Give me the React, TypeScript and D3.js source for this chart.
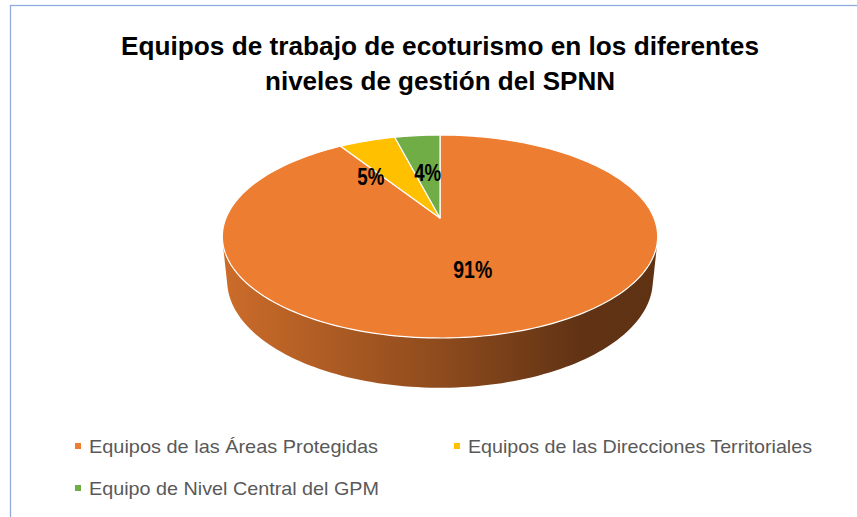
import React from "react";
import * as d3 from "d3";

const titleLines = ["Equipos de trabajo de ecoturismo en los diferentes", "niveles de gestión del SPNN"];
const categories = [
  "Equipos de las Áreas Protegidas",
  "Equipos de las Direcciones Territoriales",
  "Equipo de Nivel Central del GPM",
];
const values = [91, 5, 4];
const labels = ["91%", "5%", "4%"];
const colors = ["#ED7D31", "#FFC000", "#70AD47"];

// layout
const W = 857, H = 517;
const CX = 440, CY = 218, S = 214;
const PHI = Math.asin(0.4584);
const D = 4.87;
const T = 0.2335;
const LABEL_R = 0.5;
const labelNudge = [0, -30, 0];
const NARROW = "'Liberation Sans Narrow','Arial Narrow','Liberation Sans',Arial,sans-serif";

function proj(x: number, z: number, y = 0): [number, number] {
  const c = Math.cos(PHI), s = Math.sin(PHI);
  const Yc = y * c - z * s;
  const Zc = z * c + y * s;
  const k = D / (D - Zc);
  return [CX + S * x * k, CY - S * Yc * k];
}
const onDisk = (theta: number, r = 1, y = 0) => proj(r * Math.sin(theta), -r * Math.cos(theta), y);

function arcPoints(a0: number, a1: number, y = 0) {
  const n = Math.max(2, Math.ceil(((a1 - a0) / (2 * Math.PI)) * 240));
  return d3.range(n + 1).map((i) => onDisk(a0 + ((a1 - a0) * i) / n, 1, y));
}

export default function App() {
  const pie = d3.pie<number>().sort(null).startAngle(0).endAngle(2 * Math.PI);
  const arcs = pie(values);
  const line = d3.line();

  const k = 1 / (D * Math.cos(PHI));
  const sil0 = Math.acos(-k);
  const sil1 = 2 * Math.PI - sil0;
  const leftX = onDisk(sil1, 1, -T)[0] - 6;
  const rightX = onDisk(sil0, 1, -T)[0] + 6;

  const sides = arcs
    .map((a, i) => {
      const s0 = Math.max(a.startAngle, sil0);
      const s1 = Math.min(a.endAngle, sil1);
      if (s1 <= s0) return null;
      const pts = [...arcPoints(s0, s1, 0), ...arcPoints(s0, s1, -T).reverse()];
      return { i, d: line(pts as [number, number][]) + "Z" };
    })
    .filter(Boolean) as { i: number; d: string }[];

  const shade = (col: string, f: number) => {
    const c = d3.rgb(col);
    return d3.rgb(c.r * f, c.g * f, c.b * f).formatHex();
  };
  const stops = [
    [0, 0.86],
    [0.5, 0.6],
    [0.82, 0.41],
    [1, 0.4],
  ];

  const tops = arcs.map((a) => {
    const pts = [proj(0, 0), ...arcPoints(a.startAngle, a.endAngle, 0)];
    return line(pts as [number, number][]) + "Z";
  });

  const legendCols = [75, 454];
  const legendRows = [443, 485];
  const legendLens = [289, 344, 290];
  const labelLens = [39, 27, 27];

  return (
    <svg width={W} height={H} style={{ position: "absolute", left: 0, top: 0 }}>
      <defs>
        {colors.map((c, i) => (
          <linearGradient key={i} id={`side${i}`} gradientUnits="userSpaceOnUse" x1={leftX} x2={rightX} y1={0} y2={0}>
            {stops.map(([o, f], j) => (
              <stop key={j} offset={o} stopColor={shade(c, f)} />
            ))}
          </linearGradient>
        ))}
      </defs>
      <rect x={0} y={0} width={W} height={H} fill="#fff" />
      <rect x={10.5} y={5.5} width={W + 20} height={H + 20} fill="none" stroke="#8FAADC" strokeWidth={1.3} />

      {titleLines.map((t, i) => (
        <text
          key={i}
          x={CX}
          y={55 + i * 35}
          textAnchor="middle"
          fontFamily={NARROW}
          fontWeight="bold"
          fontSize={26}
          fill="#000"
          textLength={i === 0 ? 638 : 350}
          lengthAdjust="spacingAndGlyphs"
        >
          {t}
        </text>
      ))}

      {sides.map((s) => (
        <path key={s.i} d={s.d} fill={`url(#side${s.i})`} />
      ))}
      {tops.map((d, i) => (
        <path key={i} d={d} fill={colors[i]} stroke="#fff" strokeWidth={1.2} strokeLinejoin="round" />
      ))}

      {arcs.map((a, i) => {
        const mid = (a.startAngle + a.endAngle) / 2;
        const [x, y] = onDisk(mid, LABEL_R);
        return (
          <text
            key={i}
            x={x + labelNudge[i]}
            y={y}
            dy="0.35em"
            textAnchor="middle"
            fontFamily={NARROW}
            fontWeight="bold"
            fontSize={23}
            fill="#000"
            textLength={labelLens[i]}
            lengthAdjust="spacingAndGlyphs"
          >
            {labels[i]}
          </text>
        );
      })}

      {categories.map((c, i) => {
        const x = legendCols[i % 2];
        const y = legendRows[Math.floor(i / 2)];
        return (
          <g key={i}>
            <rect x={x} y={y} width={6} height={6} fill={colors[i]} />
            <text
              x={x + 14}
              y={y + 9.5}
              fontFamily={NARROW}
              fontSize={19}
              fill="#595959"
              textLength={legendLens[i]}
              lengthAdjust="spacingAndGlyphs"
            >
              {c}
            </text>
          </g>
        );
      })}
    </svg>
  );
}
